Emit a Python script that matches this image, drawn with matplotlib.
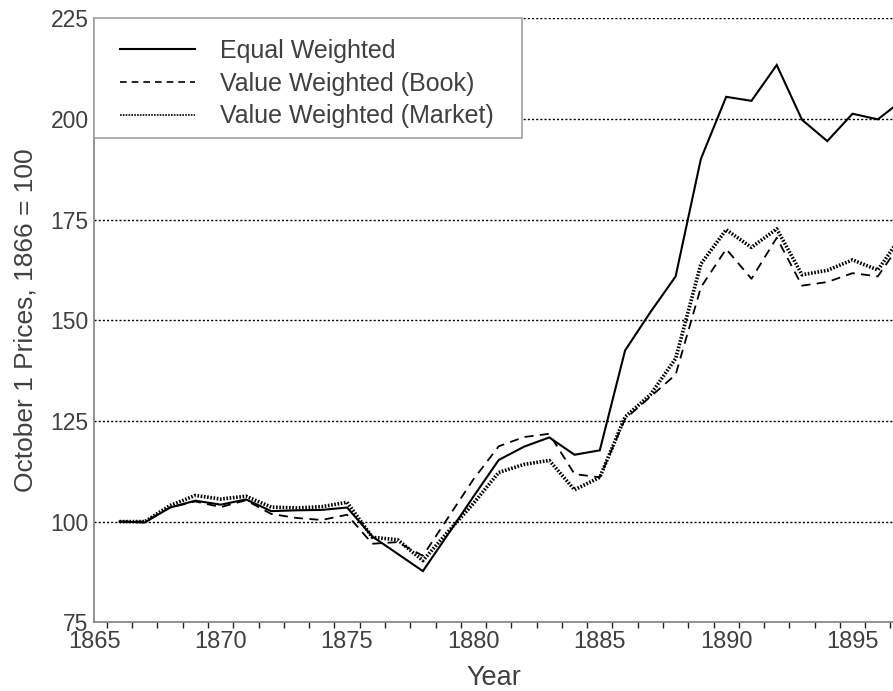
import matplotlib
matplotlib.use("Agg")
import matplotlib.pyplot as plt
from matplotlib.lines import Line2D
from matplotlib.patches import Rectangle
from matplotlib.ticker import MultipleLocator, FixedLocator

## Donnees (indices au 1er octobre, 1866 = 100)
years = list(range(1866, 1898))

equal_w = [100, 99.8, 103.5, 105.2, 104.2, 105.5, 102.6, 102.8, 102.9, 103.5,
           96.3, 92.0, 87.7, 96.9, 106.2, 115.3, 118.6, 120.9, 116.6, 117.7,
           142.5, 152.0, 160.9, 190.1, 205.5, 204.5, 213.4, 199.8, 194.5, 201.3,
           199.9, 204.8]

book_w = [100, 100, 103.5, 105.0, 103.6, 105.3, 101.9, 100.9, 100.4, 101.7,
          94.5, 94.9, 91.5, 101.0, 110.5, 118.7, 121.0, 121.8, 111.8, 111.0,
          125.5, 131.0, 136.5, 158.2, 167.7, 160.3, 170.5, 158.6, 159.5, 161.7,
          160.9, 170.0]

market_w = [100, 100, 104.0, 106.5, 105.6, 106.3, 103.6, 103.4, 103.7, 104.8,
            96.1, 95.5, 90.3, 97.5, 104.5, 112.2, 114.2, 115.2, 107.9, 111.0,
            126.0, 131.5, 140.5, 164.0, 172.5, 168.1, 172.7, 161.3, 162.4, 165.0,
            162.5, 171.5]

labels = ["Equal Weighted", "Value Weighted (Book)", "Value Weighted (Market)"]
year_labels = [1865, 1870, 1875, 1880, 1885, 1890, 1895]

plt.rcParams['font.family'] = ['Liberation Sans', 'DejaVu Sans']
txt = '#404040'

fig = plt.figure(figsize=(8.93, 6.91), dpi=100)
ax = fig.add_axes([0.1056, 0.0995, 0.8944, 0.874])   # l, b, w, h

ax.plot(years, equal_w, color='black', lw=1.5, solid_joinstyle='miter')
ax.plot(years, book_w, color='black', lw=1.3, dashes=(5, 3.5))
ax.plot(years, market_w, color='black', lw=2.6, dashes=(0.45, 0.45))

ax.set_xlim(1865, 1896.6)
ax.set_ylim(75, 225)

# axes : seulement gauche et bas, en gris
for s in ['top', 'right']:
    ax.spines[s].set_visible(False)
for s in ['left', 'bottom']:
    ax.spines[s].set_color('#808080')
    ax.spines[s].set_linewidth(1.2)

# grille horizontale en pointilles
ax.yaxis.set_major_locator(MultipleLocator(25))
for v in range(100, 226, 25):
    ax.axhline(v, color='black', lw=1.0, dashes=(1.5, 1.5), zorder=0.5)

# etiquettes aux annees rondes, petits traits aux demi-annees
ax.xaxis.set_major_locator(FixedLocator(year_labels))
ax.xaxis.set_minor_locator(FixedLocator([y + 0.5 for y in range(1865, 1897)]))
ax.tick_params(axis='x', which='major', length=0, pad=6, labelsize=17, labelcolor=txt)
ax.tick_params(axis='x', which='minor', length=4.5, width=1, color='#222222', direction='out')
ax.tick_params(axis='y', which='major', length=0, pad=4, labelsize=16.5, labelcolor=txt)

ax.set_xlabel("Year", fontsize=19.5, color=txt, labelpad=9)
ax.set_ylabel("October 1 Prices, 1866 = 100", fontsize=19, color=txt, labelpad=9)

# cadre de la legende (blanc, bord gris) puis legende sans cadre
ax.add_patch(Rectangle((0, 0.8023), 0.535, 1 - 0.8023, transform=ax.transAxes,
                       facecolor='white', edgecolor='#a0a0a0', lw=1.2,
                       zorder=3, clip_on=False))
handles = [Line2D([], [], color='black', lw=1.5),
           Line2D([], [], color='black', lw=1.2, dashes=(4, 3)),
           Line2D([], [], color='black', lw=1.2, dashes=(1, 0.7))]
leg = ax.legend(handles, labels, loc='upper left', bbox_to_anchor=(0.032, 0.966),
                borderaxespad=0, borderpad=0, fontsize=18, handlelength=3.0,
                handletextpad=1.0, labelspacing=0.35, frameon=False)
leg.set_zorder(5)
for t in leg.get_texts():
    t.set_color(txt)

fig.savefig("out.png", dpi=100)
